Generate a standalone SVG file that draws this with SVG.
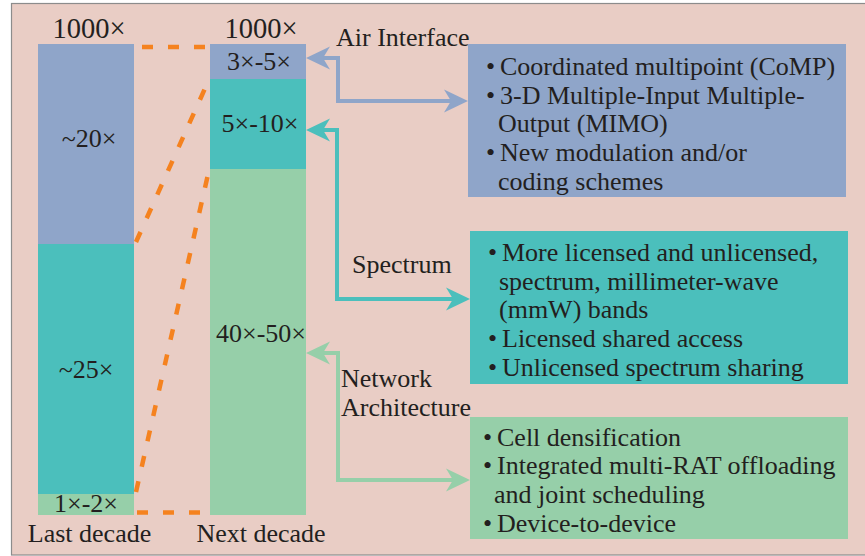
<svg xmlns="http://www.w3.org/2000/svg" width="865" height="556" viewBox="0 0 865 556">
<style>
  text { font-family: "Liberation Serif", "Times New Roman", serif; font-size: 26px; fill: #231f20; }
  .mid { text-anchor: middle; }
  .big { font-size: 28.5px; }
  .dash { fill: none; stroke: #f5821f; stroke-width: 4.5; stroke-dasharray: 11 15; }
  .conn { fill: none; stroke-width: 4; }
  .blue { fill: #8fa5c9; }
  .teal { fill: #4bbfbc; }
  .green { fill: #96cfa9; }
</style>
<defs>
  <marker id="ahBlue" viewBox="-8 -12 26 24" markerWidth="26" markerHeight="24" refX="0" refY="0" orient="auto-start-reverse" markerUnits="userSpaceOnUse">
    <path d="M-7,-11.5 L17,0 L-7,11.5 L0,0 Z" fill="#8fa5c9"/>
  </marker>
  <marker id="ahTeal" viewBox="-8 -12 26 24" markerWidth="26" markerHeight="24" refX="0" refY="0" orient="auto-start-reverse" markerUnits="userSpaceOnUse">
    <path d="M-7,-11.5 L17,0 L-7,11.5 L0,0 Z" fill="#4bbfbc"/>
  </marker>
  <marker id="ahGreen" viewBox="-8 -12 26 24" markerWidth="26" markerHeight="24" refX="0" refY="0" orient="auto-start-reverse" markerUnits="userSpaceOnUse">
    <path d="M-7,-11.5 L17,0 L-7,11.5 L0,0 Z" fill="#96cfa9"/>
  </marker>
</defs>

<rect x="11.5" y="3.5" width="870" height="551.5" fill="#e9cdc5" stroke="#8c8c8c" stroke-width="1.2"/>

<g id="last-decade">
  <rect class="blue" x="38" y="44" width="96" height="200"/>
  <rect class="teal" x="38" y="244" width="96" height="250"/>
  <rect class="green" x="38" y="494" width="96" height="21"/>
  <text class="mid big" x="89" y="38">1000×</text>
  <text class="mid" x="89" y="147">~20×</text>
  <text class="mid" x="86" y="378">~25×</text>
  <text class="mid" x="86" y="512">1×-2×</text>
  <text class="mid" x="89.5" y="542">Last decade</text>
</g>

<g id="next-decade">
  <rect class="blue" x="210" y="44" width="96" height="35"/>
  <rect class="teal" x="210" y="79" width="96" height="90"/>
  <rect class="green" x="210" y="169" width="96" height="346"/>
  <text class="mid big" x="261" y="38">1000×</text>
  <text class="mid" x="259" y="70">3×-5×</text>
  <text class="mid" x="260" y="132">5×-10×</text>
  <text class="mid" x="261" y="342">40×-50×</text>
  <text class="mid" x="261" y="542">Next decade</text>
</g>

<g id="zoom-lines">
  <path class="dash" d="M142,47 H206"/>
  <path class="dash" d="M137,512.5 H202"/>
  <path class="dash" d="M136,242 L207,84"/>
  <path class="dash" d="M136,492 L209,170"/>
</g>

<g id="connectors">
  <path class="conn" stroke="#8fa5c9" d="M323,58 H338 V101 H451" marker-start="url(#ahBlue)" marker-end="url(#ahBlue)"/>
  <path class="conn" stroke="#4bbfbc" d="M323,130 H337 V299 H453" marker-start="url(#ahTeal)" marker-end="url(#ahTeal)"/>
  <path class="conn" stroke="#96cfa9" d="M323,353 H338 V480 H453" marker-start="url(#ahGreen)" marker-end="url(#ahGreen)"/>
  <text x="336" y="46">Air Interface</text>
  <text x="352" y="273">Spectrum</text>
  <text x="341" y="387">Network</text>
  <text x="341" y="416">Architecture</text>
</g>

<g id="air-interface-box">
  <rect class="blue" x="468" y="44" width="378" height="153"/>
  <text><tspan x="486" y="75">•</tspan><tspan x="500" y="75">Coordinated multipoint (CoMP)</tspan></text>
  <text><tspan x="486" y="104">•</tspan><tspan x="500" y="104">3-D Multiple-Input Multiple-</tspan></text>
  <text x="498" y="132">Output (MIMO)</text>
  <text><tspan x="486" y="161">•</tspan><tspan x="500" y="161">New modulation and/or</tspan></text>
  <text x="498" y="190">coding schemes</text>
</g>

<g id="spectrum-box">
  <rect class="teal" x="470" y="231" width="378" height="153"/>
  <text><tspan x="488" y="261">•</tspan><tspan x="502" y="261">More licensed and unlicensed,</tspan></text>
  <text x="499" y="290">spectrum, millimeter-wave</text>
  <text x="499" y="318">(mmW) bands</text>
  <text><tspan x="488" y="347">•</tspan><tspan x="502" y="347">Licensed shared access</tspan></text>
  <text><tspan x="488" y="376">•</tspan><tspan x="502" y="376">Unlicensed spectrum sharing</tspan></text>
</g>

<g id="network-box">
  <rect class="green" x="470" y="417" width="378" height="122"/>
  <text><tspan x="483" y="446">•</tspan><tspan x="497" y="446">Cell densification</tspan></text>
  <text><tspan x="483" y="474">•</tspan><tspan x="497" y="474">Integrated multi-RAT offloading</tspan></text>
  <text x="494" y="503">and joint scheduling</text>
  <text><tspan x="483" y="532">•</tspan><tspan x="497" y="532">Device-to-device</tspan></text>
</g>
</svg>
